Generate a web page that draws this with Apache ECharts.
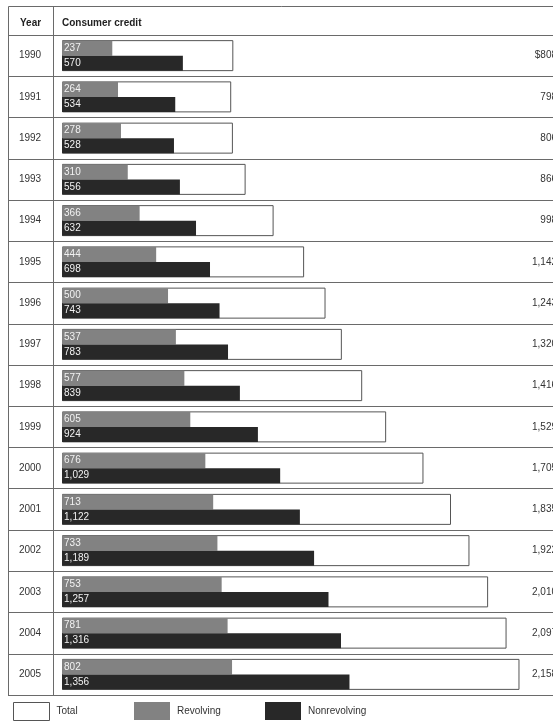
<!DOCTYPE html>
<html><head><meta charset="utf-8">
<script src="https://cdn.jsdelivr.net/npm/echarts@6/dist/echarts.min.js"></script>
<style>html,body{margin:0;padding:0;background:#fff}#c{width:553px;height:721px}</style>
</head><body><div id="c"></div>
<script>
const years = ['1990','1991','1992','1993','1994','1995','1996','1997','1998','1999','2000','2001','2002','2003','2004','2005'];
const revolving = [237,264,278,310,366,444,500,537,577,605,676,713,733,753,781,802];
const nonrevolving = [570,534,528,556,632,698,743,783,839,924,1029,1122,1189,1257,1316,1356];
const totals = [808,798,806,866,998,1142,1243,1320,1416,1529,1705,1835,1922,2010,2097,2158];
const seriesNames = ['Total','Revolving','Nonrevolving'];

const fmt = v => v.toLocaleString('en-US');
const FONT = 'Liberation Sans, Arial, sans-serif';
const lineCol = '#6a6a6a';

const chart = echarts.init(document.getElementById('c'), null, {renderer:'canvas'});
const legendBase = {
  top: 697, itemWidth: 36, itemHeight: 18, icon: 'rect',
  textStyle: {fontFamily: FONT, fontSize: 10, color: '#333', padding: [0,0,0,2]}
};
chart.setOption({
  animation: false,
  title: [
    {text: 'Year', left: 20, top: 18, padding: 0, textStyle: {fontFamily: FONT, fontSize: 10, fontWeight: 'bold', color: '#222'}},
    {text: 'Consumer credit', left: 62, top: 18, padding: 0, textStyle: {fontFamily: FONT, fontSize: 10, fontWeight: 'bold', color: '#222'}}
  ],
  graphic: [
    {type: 'rect', shape: {x: 8.5, y: 6.5, width: 600, height: 689}, style: {fill: 'none', stroke: lineCol, lineWidth: 1}, silent: true},
    {type: 'line', shape: {x1: 53.5, y1: 6, x2: 53.5, y2: 696}, style: {stroke: lineCol, lineWidth: 1}, silent: true}
  ],
  legend: [
    Object.assign({left: 8, data: [{name: seriesNames[0], itemStyle: {color: '#fff', borderColor: '#555', borderWidth: 1}}]}, legendBase),
    Object.assign({left: 129, data: [seriesNames[1]]}, legendBase),
    Object.assign({left: 260, data: [seriesNames[2]]}, legendBase)
  ],
  grid: {left: 8, right: -4, top: 35, bottom: 26, show: false, containLabel: false, outerBoundsMode: 'none'},
  xAxis: {type: 'value', min: -255, max: 2335, show: false},
  yAxis: [
    {type: 'category', data: years, inverse: true, position: 'left',
     axisLine: {show: false}, axisTick: {show: false},
     splitLine: {show: true, lineStyle: {color: lineCol, width: 1}},
     axisLabel: {inside: true, margin: 22, align: 'center', fontFamily: FONT, fontSize: 10, color: '#333'}},
    {type: 'category', data: years, inverse: true, show: false},
    {type: 'category', data: years, inverse: true, position: 'right',
     axisLine: {show: false}, axisTick: {show: false}, splitLine: {show: false},
     axisLabel: {inside: true, margin: 0, align: 'right', fontFamily: FONT, fontSize: 10, color: '#333',
       formatter: (v, i) => (i === 0 ? '$' : '') + fmt(totals[i])}}
  ],
  series: [
    {name: seriesNames[0], type: 'bar', yAxisIndex: 0, data: totals, barWidth: 31,
     itemStyle: {color: '#fff', borderColor: '#555', borderWidth: 1}},
    {name: seriesNames[1], type: 'bar', yAxisIndex: 1, data: revolving, barWidth: 15, barGap: '0%',
     itemStyle: {color: '#828282'},
     label: {show: true, position: 'insideLeft', offset: [-3, 0], color: '#f2f2f2', fontFamily: FONT, fontSize: 10, formatter: p => fmt(p.value)}},
    {name: seriesNames[2], type: 'bar', yAxisIndex: 1, data: nonrevolving, barWidth: 15, barGap: '0%',
     itemStyle: {color: '#282828'},
     label: {show: true, position: 'insideLeft', offset: [-3, 0], color: '#f2f2f2', fontFamily: FONT, fontSize: 10, formatter: p => fmt(p.value)}}
  ]
});
</script></body></html>
